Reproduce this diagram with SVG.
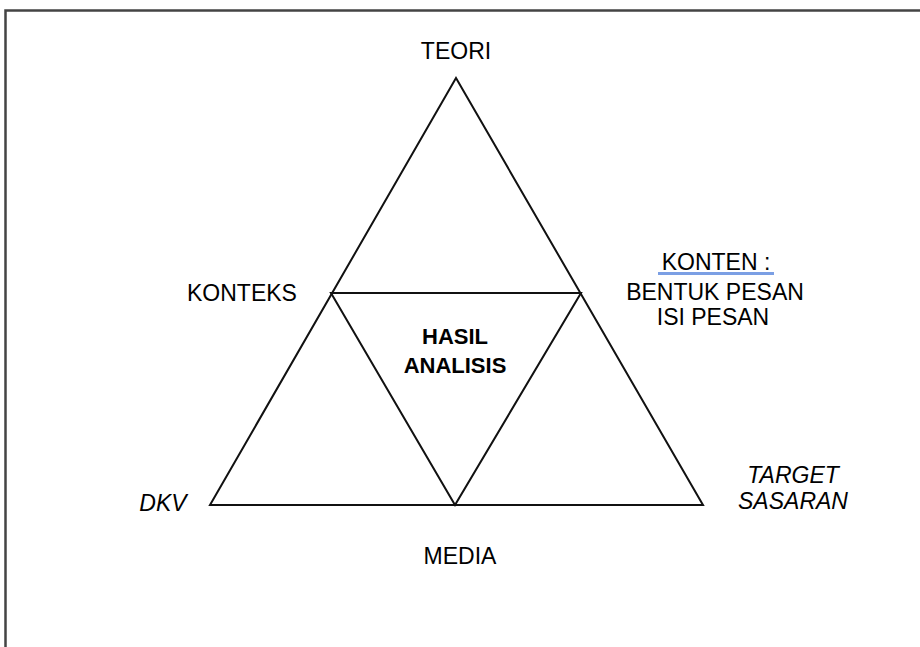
<svg xmlns="http://www.w3.org/2000/svg" width="920" height="647" viewBox="0 0 920 647">
<style>
.t{font-family:"Liberation Sans",Arial,sans-serif;font-size:23px;fill:#000;text-anchor:middle}
.b{font-weight:bold;font-size:22px}
.i{font-style:italic}
.ln{stroke:#111;stroke-width:2;fill:none;stroke-linejoin:miter}
</style>
<rect width="920" height="647" fill="#fff"/>
<g id="frame"><path d="M5.5 647 V10.5 H920" stroke="#444" stroke-width="2.5" fill="none"/></g>
<g id="connectors">
<polygon class="ln" points="456,78 210,505 703,505"/>
<polygon class="ln" points="331,293 581,293 455,505"/>
</g>
<g id="teori"><text class="t" x="456" y="59">TEORI</text></g>
<g id="konteks"><text class="t" x="242" y="301">KONTEKS</text></g>
<g id="konten">
<text class="t" x="716" y="270">KONTEN :</text>
<line x1="658" y1="273.5" x2="774" y2="273.5" stroke="#7b9fe4" stroke-width="3"/>
<text class="t" x="715" y="300">BENTUK PESAN</text>
<text class="t" x="713" y="325">ISI PESAN</text>
</g>
<g id="hasil">
<text class="t b" x="455" y="344">HASIL</text>
<text class="t b" x="455" y="373">ANALISIS</text>
</g>
<g id="dkv"><text class="t i" x="163" y="511">DKV</text></g>
<g id="target">
<text class="t i" x="793" y="483">TARGET</text>
<text class="t i" x="793" y="509">SASARAN</text>
</g>
<g id="media"><text class="t" x="460" y="564">MEDIA</text></g>
</svg>
